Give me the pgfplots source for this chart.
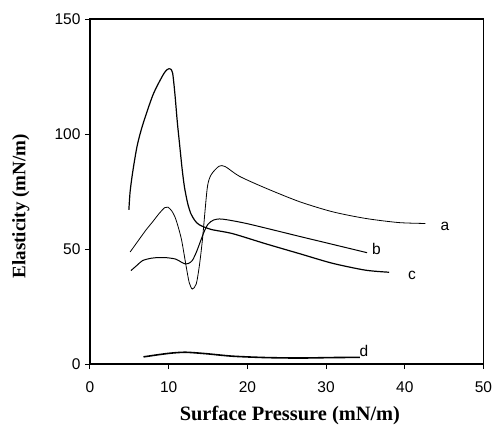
\documentclass[border=0pt]{standalone}
\usepackage{fontspec}
\setmainfont{Liberation Sans}
\newfontfamily\labelfont{Liberation Serif}
\usepackage{pgfplots}
\pgfplotsset{compat=1.18}

\begin{document}
\begin{tikzpicture}
\begin{axis}[
    scale only axis,
    width=393.5pt,
    height=345pt,
    xmin=0, xmax=50,
    ymin=0, ymax=150,
    xtick={0,10,...,50},
    ytick={0,50,100,150},
    tick align=outside,
    major tick length=5pt,
    tick style={black, line width=1pt},
    axis line style={line width=1.2pt},
    /pgf/number format/assume math mode=true,
    ticklabel style={font=\fontsize{15.5}{15.5}\selectfont},
    xticklabel style={yshift=-9pt},
    yticklabel style={xshift=-1pt},
    xlabel={\labelfont\bfseries Surface Pressure (mN/m)},
    ylabel={\labelfont\bfseries Elasticity (mN/m)},
    xlabel style={font=\fontsize{20.4}{20}\selectfont, at={(axis description cs:0.508,-0.148)}, anchor=center},
    ylabel style={font=\fontsize{19}{19}\selectfont, at={(axis description cs:-0.176,0.457)}, anchor=center},
    every axis plot/.append style={black, smooth, tension=0.45},
]

% curve running from the tall peak into the lower branch (c)
\addplot[line width=1.2pt] coordinates {
    (4.94,67) (5.1,75) (5.45,84) (6.0,95) (6.7,104) (8.0,117) (9.25,125.5)
    (9.8,128) (10.2,128.3) (10.5,126.5) (10.8,117) (11.1,105) (11.4,95)
    (11.7,85) (12.0,77) (12.4,70) (12.8,65.5) (13.3,62.5) (13.9,60.5)
    (15.4,58.5) (18.1,56.7) (22.3,52.3) (26.6,48) (30.8,43.8) (35,40.8) (38,39.9)
};

% curve with the deep dip, ending at a
\addplot[line width=0.8pt] coordinates {
    (5.1,48.7) (6,53) (7.1,58.2) (8.0,62) (8.8,65.5) (9.5,68) (9.9,68.2)
    (10.4,66.5) (10.9,63) (11.6,54.5) (12.2,42.8) (12.6,35.5) (13.0,32.6)
    (13.5,34.8) (13.9,42.8) (14.3,54.5) (14.9,76.5) (15.4,82.3) (16.4,86)
    (17.2,85.8) (19,81.6) (22.3,76.5) (26.6,70.6) (30.8,66.2) (35,63.3)
    (39.2,61.5) (42.6,61.1)
};

% curve ending at b
\addplot[line width=1.0pt] coordinates {
    (5.2,40.6) (6,43) (6.7,45) (7.8,46) (8.8,46.3) (9.8,46.2) (10.9,45.6)
    (11.6,44.3) (12.0,43.6) (12.5,43.7) (13.0,45) (13.5,48.5) (14.0,53)
    (14.5,57.5) (15.0,60.8) (15.7,62.6) (16.8,63) (20,61) (26.6,55.5)
    (30,52.7) (35.2,48.4)
};

% curve d
\addplot[line width=1.6pt] coordinates {
    (6.8,3.1) (8.8,4.1) (10.5,4.8) (12.2,5.1) (14.7,4.5) (18.1,3.4)
    (22.3,2.8) (26.6,2.6) (30.8,2.8) (34.3,2.9)
};

\node[font=\fontsize{15.5}{15.5}\selectfont] at (axis cs:45.1,60) {a};
\node[font=\fontsize{15.5}{15.5}\selectfont] at (axis cs:36.4,49.9) {b};
\node[font=\fontsize{15.5}{15.5}\selectfont] at (axis cs:40.9,38.6) {c};
\node[font=\fontsize{15.5}{15.5}\selectfont] at (axis cs:34.8,5.5) {d};
\end{axis}
% hide the mirrored ticks outside the top and right edges
\fill[white] (-2pt,345.8pt) rectangle (400pt,352pt);
\fill[white] (394.3pt,-1pt) rectangle (400pt,352pt);
\pgfresetboundingbox
\path[use as bounding box] (-90pt,-60pt) rectangle (405pt,364pt);
\end{tikzpicture}
\end{document}
